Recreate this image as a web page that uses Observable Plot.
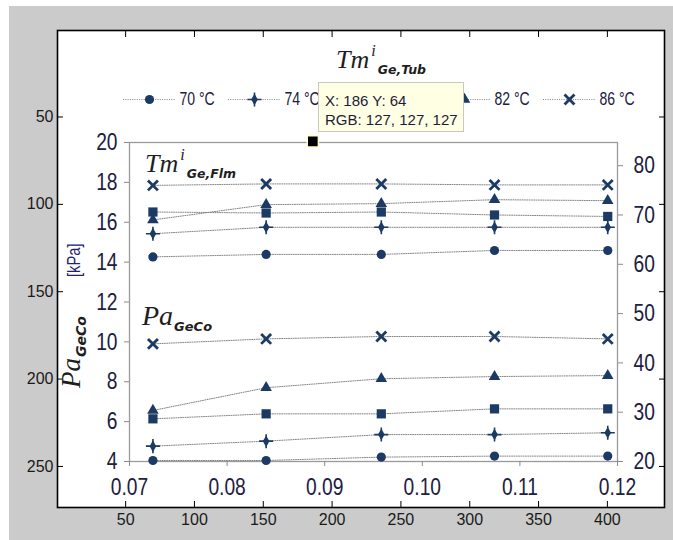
<!DOCTYPE html>
<html><head><meta charset="utf-8">
<script src="https://cdn.jsdelivr.net/npm/d3@7"></script>
<script src="https://cdn.jsdelivr.net/npm/@observablehq/plot@0.6"></script>
<style>
body{margin:0;background:#fff;}
#wrap{position:relative;width:673px;height:540px;overflow:hidden;background:#fff;}
#gray{position:absolute;left:9px;top:6px;right:0;bottom:0;background:#cbcbcb;}
#tip{position:absolute;left:318px;top:82px;width:146px;height:50px;background:#ffffe4;border:1px solid #c9c9c0;
 font-family:"Liberation Sans",Arial,sans-serif;font-size:15px;color:#1c1c3a;line-height:19px;padding:0 0 0 6px;box-sizing:border-box;}
#tip div:first-child{margin-top:8px;}
</style></head>
<body><div id="wrap"><div id="gray"></div></div>
<script>
// ---------- data ----------
const seriesNames = ["70 °C", "74 °C", "78 °C", "82 °C", "86 °C"];
const flowRate = [0.0724, 0.0840, 0.0958, 0.1074, 0.1190];
// Pa_GeCo [kPa] (left axis)
const pa70 = [4.05, 4.05, 4.22, 4.27, 4.27];
const pa74 = [4.77, 5.02, 5.35, 5.35, 5.44];
const pa78 = [6.14, 6.39, 6.39, 6.64, 6.64];
const pa82 = [6.56, 7.70, 8.15, 8.26, 8.31];
const pa86 = [9.90, 10.15, 10.27, 10.27, 10.15];
// Tm^i_Ge,Flm [°C] (right axis)
const tm70 = [61.5, 62.0, 62.0, 62.8, 62.8];
const tm74 = [66.2, 67.5, 67.5, 67.5, 67.5];
const tm78 = [70.6, 70.4, 70.6, 70.0, 69.7];
const tm82 = [69.0, 72.1, 72.3, 73.1, 72.9];
const tm86 = [76.0, 76.3, 76.3, 76.1, 76.1];
// axes
const xTicks = [0.07, 0.08, 0.09, 0.1, 0.11, 0.12];
const leftTicks = [4, 6, 8, 10, 12, 14, 16, 18, 20];
const rightTicks = [20, 30, 40, 50, 60, 70, 80];
const leftDomain = [4, 20];
const rightDomain = [20, 84.7];
// outer image axes (pixel coordinates of the screenshot) and data tip
const outerXTicks = [50, 100, 150, 200, 250, 300, 350, 400];
const outerYTicks = [50, 100, 150, 200, 250];
const outerXDomain = [0.5, 441.5];
const outerYDomain = [0.5, 273.5];
const tipPoint = [{x: 186, y: 64}];
const tipRGB = [127, 127, 127];

// ---------- styles ----------
const navy = "#1b3a64";
const markerSymbols = ["circle", "diamond", "square", "triangle", "times"];
const markerR = [4.6, 3.5, 5.2, 4.3, 4.6];
const sans = "'Liberation Sans',Arial,sans-serif";

const paSeries = [pa70, pa74, pa78, pa82, pa86];
const tmSeries = [tm70, tm74, tm78, tm82, tm86];
const toLeft = v => leftDomain[0] + (v - rightDomain[0]) * (leftDomain[1] - leftDomain[0]) / (rightDomain[1] - rightDomain[0]);

const rows = [];
seriesNames.forEach((s, i) => {
  flowRate.forEach((x, j) => {
    rows.push({series: s, group: "Pa", x, y: paSeries[i][j]});
    rows.push({series: s, group: "Tm", x, y: toLeft(tmSeries[i][j])});
  });
});

function markerMarks(data, i, opts) {
  const sym = markerSymbols[i], r = markerR[i];
  if (sym === "times") return [Plot.dot(data, {...opts, symbol: "times", r, stroke: navy, strokeWidth: 2.8})];
  if (sym === "diamond") return [
    Plot.dot(data, {...opts, symbol: "diamond", r, fill: navy}),
    Plot.dot(data, {...opts, symbol: "plus", r: 4.6, stroke: navy, strokeWidth: 1.6})
  ];
  return [Plot.dot(data, {...opts, symbol: sym, r, fill: navy})];
}

// horizontally condense text (narrow font look) around each label's anchor
function condense(svg, k) {
  d3.select(svg).selectAll("text").each(function () {
    const x = this.getAttribute("x");
    let t = this.getAttribute("transform") || "";
    if (x !== null && !t) { t = `translate(${x},0)`; this.removeAttribute("x"); }
    this.setAttribute("transform", `${t} scale(${k},1)`);
  });
  return svg;
}

const wrap = document.getElementById("wrap");
function addLayer(el) { el.style.position = "absolute"; el.style.left = "0px"; el.style.top = "0px"; wrap.appendChild(el); }

const outerBase = {
  width: 673, height: 540, marginLeft: 57, marginRight: 9, marginTop: 30, marginBottom: 33,
  style: {background: "transparent", fontFamily: sans, fontSize: "16px", color: "#1a1a1a", overflow: "visible"}
};

// ---------- outer (image) axes ----------
addLayer(Plot.plot({
  ...outerBase,
  x: {domain: outerXDomain}, y: {domain: outerYDomain, reverse: true},
  marks: [
    Plot.frame({fill: "white"}),
    Plot.axisX(outerXTicks, {anchor: "bottom", label: null, tickSize: -6, tickPadding: 12, stroke: "#000"}),
    Plot.axisX(outerXTicks, {anchor: "top", label: null, tickSize: -6, tickFormat: () => "", stroke: "#000"}),
    Plot.axisY(outerYTicks, {anchor: "left", label: null, tickSize: -6, tickPadding: 10, stroke: "#000"}),
    Plot.axisY(outerYTicks, {anchor: "right", label: null, tickSize: -6, tickFormat: () => "", stroke: "#000"}),
    Plot.frame({stroke: "#000", strokeWidth: 1.6})
  ]
}));

// ---------- inner chart ----------
addLayer(condense(Plot.plot({
  width: 673, height: 540, marginLeft: 129, marginRight: 56, marginTop: 142, marginBottom: 79,
  x: {domain: [0.07, 0.12]}, y: {domain: leftDomain},
  style: {background: "transparent", fontFamily: sans, fontSize: "24px", color: "#202040", overflow: "visible"},
  marks: [
    Plot.frame({stroke: "#9a9a9a", strokeWidth: 1.3}),
    Plot.axisX(xTicks, {label: null, tickSize: 5, tickPadding: 11, stroke: "#8a8a8a", fill: "#202040"}),
    Plot.axisY(leftTicks, {anchor: "left", label: null, tickSize: 5, tickPadding: 7, stroke: "#8a8a8a", fill: "#202040"}),
    Plot.axisY(rightTicks, {anchor: "right", label: null, y: d => toLeft(d), text: d => String(d), tickSize: 5, tickPadding: 11, stroke: "#8a8a8a", fill: "#202040"}),
    Plot.line(rows, {x: "x", y: "y", z: d => d.series + d.group, stroke: "#858585", strokeWidth: 1, strokeDasharray: "1,1.3"}),
    ...seriesNames.flatMap((s, i) => markerMarks(rows.filter(d => d.series === s), i, {x: "x", y: "y"}))
  ]
}), 0.8));

// ---------- legend ----------
addLayer(condense(Plot.plot({
  width: 673, height: 200, marginLeft: 121, marginRight: 77, marginTop: 89, marginBottom: 91,
  x: {type: "band", domain: seriesNames, paddingInner: 0.508, paddingOuter: 0, axis: null},
  y: {domain: [-1, 1], axis: null},
  style: {background: "transparent", fontFamily: sans, fontSize: "18px", color: "#20203c", overflow: "visible"},
  marks: [
    Plot.tickY(seriesNames, {x: d => d, y: () => 0, stroke: "#858585", strokeDasharray: "1,1.3"}),
    ...seriesNames.flatMap((s, i) => markerMarks([s], i, {x: d => d, y: () => 0})),
    Plot.text(seriesNames, {x: d => d, y: () => 0, text: d => d, dx: 30, textAnchor: "start", fill: "#20203c"})
  ]
}), 0.78));

// ---------- rich-text annotations ----------
const ann = d3.create("svg").attr("width", 673).attr("height", 540).style("overflow", "visible");
function mathLabel(g, x, y, main, sup, sub, size, subSize) {
  const t = g.append("text").attr("x", x).attr("y", y).attr("fill", "#1e1e1e");
  t.append("tspan").text(main).attr("font-family", "'Liberation Serif','Times New Roman',serif").attr("font-style", "italic").attr("font-size", size);
  if (sup) t.append("tspan").text(sup).attr("font-family", "'Liberation Serif',serif").attr("font-style", "italic").attr("font-size", size * 0.62).attr("dx", 2).attr("dy", -size * 0.45);
  if (sub) t.append("tspan").text(sub).attr("font-family", "'DejaVu Sans',sans-serif").attr("font-style", "italic").attr("font-weight", 600).attr("font-size", subSize).attr("dx", sup ? 2 : 1).attr("dy", sup ? size * 0.68 : size * 0.22);
  return t;
}
mathLabel(ann, 336, 68, "Tm", "i", "Ge,Tub", 26, 12.5);
mathLabel(ann, 145, 172, "Tm", "i", "Ge,Flm", 26, 12.5);
mathLabel(ann, 142, 325, "Pa", null, "GeCo", 28, 13);
const yl = ann.append("g").attr("transform", "translate(80,388) rotate(-90)");
mathLabel(yl, 0, 0, "Pa", null, "GeCo", 27, 14);
yl.append("text").attr("transform", "translate(111,0) scale(0.82,1)").attr("font-family", sans).attr("font-size", 18).attr("fill", "#22226e").text("[kPa]");
addLayer(ann.node());

// ---------- data tip ----------
const tip = document.createElement("div");
tip.id = "tip";
tip.innerHTML = `<div>X: ${tipPoint[0].x} Y: ${tipPoint[0].y}</div><div>RGB: ${tipRGB.join(", ")}</div>`;
wrap.appendChild(tip);
addLayer(Plot.plot({
  ...outerBase,
  x: {domain: outerXDomain, axis: null}, y: {domain: outerYDomain, reverse: true, axis: null},
  marks: [Plot.dot(tipPoint, {x: "x", y: "y", symbol: "square", r: 6.3, fill: "#000", stroke: "#ffffcc", strokeWidth: 1.5})]
}));
</script>
</body></html>
